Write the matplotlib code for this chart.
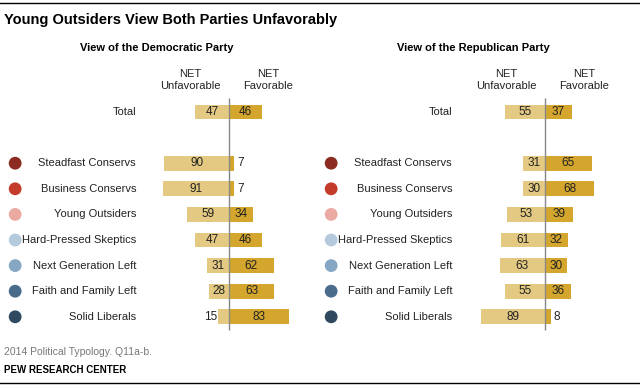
import matplotlib.pyplot as plt
from matplotlib.lines import Line2D

plt.rcParams['font.family'] = ['Liberation Sans', 'DejaVu Sans']

groups = ["Total", "Steadfast Conservs", "Business Conservs", "Young Outsiders",
          "Hard-Pressed Skeptics", "Next Generation Left", "Faith and Family Left",
          "Solid Liberals"]
dot_colors = [None, "#8c2b22", "#c43b2b", "#eaaaa2", "#b5c9dc", "#86a7c3", "#4a6b8a", "#2f4a60"]

dem_unfav = [47, 90, 91, 59, 47, 31, 28, 15]
dem_fav = [46, 7, 7, 34, 46, 62, 63, 83]
rep_unfav = [55, 31, 30, 53, 61, 63, 55, 89]
rep_fav = [37, 65, 68, 39, 32, 30, 36, 8]

panels = [("View of the Democratic Party", dem_unfav, dem_fav),
          ("View of the Republican Party", rep_unfav, rep_fav)]

UNFAV = "#e3c982"
FAV = "#d4a62e"
W, H = 640, 388
PX = 0.72      # pixels per percentage point
ROW = 25.6     # pixels per row unit
centers = [229, 545]

fig = plt.figure(figsize=(6.4, 3.88), dpi=100)

ypos = [0] + [i + 2 for i in range(len(groups) - 1)]

for k, (title, unfav, fav) in enumerate(panels):
    left = k * 320
    ax = fig.add_axes([left / W, 0, 320 / W, 1])
    c = centers[k]
    ax.set_xlim(-(c - left) / PX, (left + 320 - c) / PX)
    ax.set_ylim((H - 112) / ROW, -112 / ROW)
    ax.axis('off')

    ax.barh(ypos, [-u for u in unfav], height=0.58, color=UNFAV)
    ax.barh(ypos, fav, height=0.58, color=FAV)
    ax.vlines(0, -0.55, 8.5, color="#888888", lw=1)

    for y, u, f, name, col in zip(ypos, unfav, fav, groups, dot_colors):
        if u >= 20:
            ax.text(-u / 2, y, str(u), ha='center', va='center', fontsize=8.5, color='#222222')
        else:
            ax.text(-u - 1.5, y, str(u), ha='right', va='center', fontsize=8.5, color='#222222')
        if f >= 20:
            ax.text(f / 2, y, str(f), ha='center', va='center', fontsize=8.5, color='#222222')
        else:
            ax.text(f + 4, y, str(f), ha='left', va='center', fontsize=8.5, color='#222222')
        ax.text(-129, y, name, ha='right', va='center', fontsize=8, color='#222222')
        if col:
            ax.scatter([-297], [y], s=85, color=col, edgecolors='none')

    fig.text((c - 72) / W, 1 - 48 / H, title, ha='center', va='center',
             fontsize=8, fontweight='bold')
    fig.text((c - 39) / W, 1 - 80 / H, "NET\nUnfavorable", ha='center', va='center',
             fontsize=8, color='#222222', linespacing=1.3)
    fig.text((c + 39) / W, 1 - 80 / H, "NET\nFavorable", ha='center', va='center',
             fontsize=8, color='#222222', linespacing=1.3)

fig.text(4 / W, 1 - 20 / H, "Young Outsiders View Both Parties Unfavorably",
         ha='left', va='center', fontsize=10.5, fontweight='bold')
fig.text(4 / W, 1 - 352 / H, "2014 Political Typology. Q11a-b.",
         ha='left', va='center', fontsize=7.5, color='#777777')
fig.text(4 / W, 1 - 370 / H, "PEW RESEARCH CENTER",
         ha='left', va='center', fontsize=7, fontweight='bold')

fig.add_artist(Line2D([0, 1], [1 - 3 / H, 1 - 3 / H], color='black', lw=1))
fig.add_artist(Line2D([0, 1], [1 - 383 / H, 1 - 383 / H], color='black', lw=1))

fig.savefig("out.png", dpi=100)
